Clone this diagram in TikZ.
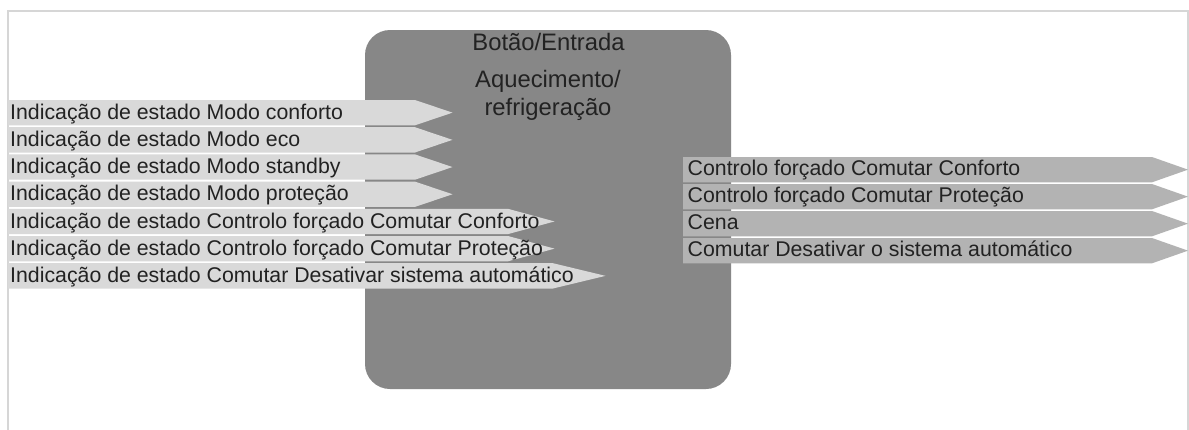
\documentclass[tikz,border=0pt]{standalone}
\usepackage{fontspec}
\setmainfont{Liberation Sans}
\definecolor{framegray}{HTML}{D6D6D6}
\definecolor{boxgray}{HTML}{878787}
\definecolor{lightarrow}{HTML}{D9D9D9}
\definecolor{midarrow}{HTML}{B3B3B3}
\definecolor{textdark}{HTML}{222222}
\newcommand\LArrow[5]{%
  \fill[lightarrow] (8,#2) -- (#3,#2) -- (#4,#2+12.65) -- (#3,#2+25.3) -- (8,#2+25.3) -- cycle;
  \node[listtext] (#1) at (10,#2+19.3) {#5};}
\newcommand\RArrow[3]{%
  \fill[midarrow] (683,#2) -- (1152,#2) -- (1188,#2+12.65) -- (1152,#2+25.3) -- (683,#2+25.3) -- cycle;
  \node[listtext] (#1) at (687.5,#2+18.9) {#3};}
\begin{document}
\begin{tikzpicture}[x=1pt,y=-1pt,
  listtext/.style={anchor=base west,inner sep=0pt,text=textdark,font=\fontsize{21.3}{24}\selectfont},
  titletext/.style={anchor=base,inner sep=0pt,text=textdark,font=\fontsize{23.8}{27}\selectfont},
  framestyle/.style={draw=framegray,line width=1.6pt}]
\useasboundingbox (0,0) rectangle (1189,429);
\fill[white] (0,0) rectangle (1189,429);
% frame
\draw[framestyle] (8,440) -- (8,11) -- (1188,11) -- (1188,440);
% main block
\fill[boxgray,rounded corners=25pt] (365,30) rectangle (731,389);
\node[titletext] (t1) at (548.5,50.7) {Botão/Entrada};
\node[titletext] (t2) at (548,87.5) {Aquecimento/};
\node[titletext] (t3) at (548,115) {refrigeração};
% inputs
\LArrow{l1}{100}{415}{452.5}{Indicação de estado Modo conforto}
\LArrow{l2}{127.2}{415}{452.5}{Indicação de estado Modo eco}
\LArrow{l3}{154.4}{415}{452.5}{Indicação de estado Modo standby}
\LArrow{l4}{181.6}{415}{452.5}{Indicação de estado Modo proteção}
\LArrow{l5}{208.8}{508}{554.5}{Indicação de estado Controlo forçado Comutar Conforto}
\LArrow{l6}{236}{508}{554.5}{Indicação de estado Controlo forçado Comutar Proteção}
\LArrow{l7}{263.2}{553}{605.5}{Indicação de estado Comutar Desativar sistema automático}
% outputs
\RArrow{r1}{157}{Controlo forçado Comutar Conforto}
\RArrow{r2}{184}{Controlo forçado Comutar Proteção}
\RArrow{r3}{211}{Cena}
\RArrow{r4}{238}{Comutar Desativar o sistema automático}
\end{tikzpicture}
\end{document}
